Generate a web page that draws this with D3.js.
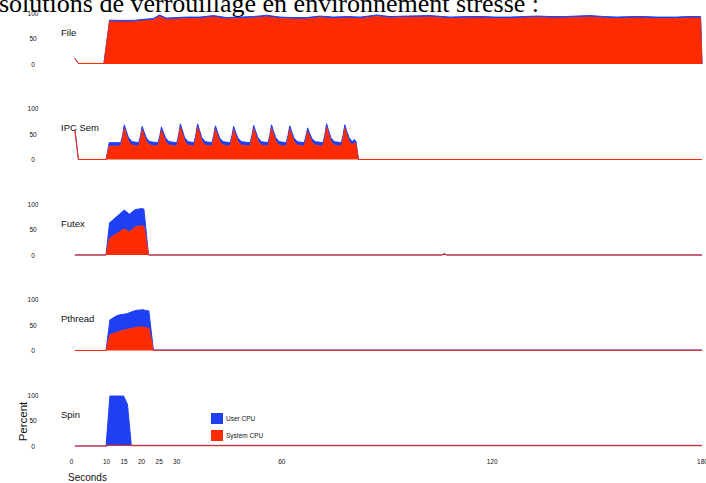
<!DOCTYPE html>
<html>
<head>
<meta charset="utf-8">
<script src="https://cdn.jsdelivr.net/npm/d3@7"></script>
<style>
  body { margin: 0; background: #fff; overflow: hidden; }
  text { font-family: "Liberation Sans", Arial, sans-serif; }
</style>
</head>
<body>
<svg id="chart" width="706" height="483"></svg>
<script>
const titleText = "solutions de verrouillage en environnement stressé :";
const panelNames = ["File", "IPC Sem", "Futex", "Pthread", "Spin"];
const xTicks = [0, 10, 15, 20, 25, 30, 60, 120, 180];
const yTicks = [0, 50, 100];
const legendLabels = ["User CPU", "System CPU"];

// [seconds, system %, user %]
const fileCpu = [
  [1.1, 11, 0], [2.1, 1, 0], [9.4, 1, 0], [11.0, 83, 3], [13.0, 82.5, 3], [17.8, 82.5, 3],
  [21.6, 85, 3], [23.5, 86, 3], [25.2, 93, 3], [27.3, 87, 3], [33, 89, 3], [36.8, 89, 3],
  [40.6, 92, 3], [44.4, 88, 3], [48.2, 89, 3], [52, 90, 3], [55.8, 92.5, 3], [59.6, 89, 3],
  [63.4, 88, 3], [67.2, 88, 3], [71, 91, 3], [74.8, 89, 3], [78.7, 90, 3], [82.5, 89, 3],
  [87.2, 93, 3], [91, 90, 3], [96, 91, 3], [102.4, 92, 3], [108.1, 89, 3], [113, 90, 3],
  [117.6, 90, 3], [121, 89, 3], [125.2, 89, 3], [132.9, 91, 3], [137, 90, 3], [140.5, 90, 3],
  [148.1, 92, 3], [152, 90, 3], [155.7, 89, 3], [160, 90, 3], [163.3, 90, 3], [167.1, 89, 3],
  [172.8, 89, 3], [176, 90, 3], [179.6, 90, 3], [180, 0, 0]
];

const ipcSemCpu = [
  [1.1, 59, 0], [2.1, 0, 0], [10.0, 0, 0], [10.9, 26, 7],
  [14.2, 26, 7], [14.7, 40, 7], [15.2, 61, 7], [15.7, 50, 7], [16.4, 36, 7], [17.4, 28, 7],
  [19.3, 26, 7], [19.8, 39, 7], [20.3, 58, 7], [20.8, 48, 7], [21.5, 35, 7], [22.5, 28, 7],
  [24.8, 26, 7], [25.3, 38, 7], [25.8, 57, 7], [26.3, 47, 7], [27.0, 35, 7], [28.0, 28, 7],
  [30.2, 26, 7], [30.7, 41, 7], [31.2, 63, 7], [31.7, 52, 7], [32.4, 36, 7], [33.4, 28, 7],
  [35.1, 26, 7], [35.6, 41, 7], [36.1, 63, 7], [36.6, 52, 7], [37.3, 36, 7], [38.3, 28, 7],
  [40.2, 26, 7], [40.7, 40, 7], [41.2, 59, 7], [41.7, 49, 7], [42.4, 35, 7], [43.4, 28, 7],
  [45.4, 26, 7], [45.9, 39, 7], [46.4, 58, 7], [46.9, 48, 7], [47.6, 35, 7], [48.6, 28, 7],
  [51.1, 26, 7], [51.6, 40, 7], [52.1, 60, 7], [52.6, 50, 7], [53.3, 36, 7], [54.3, 28, 7],
  [56.2, 26, 7], [56.7, 40, 7], [57.2, 61, 7], [57.7, 50, 7], [58.4, 36, 7], [59.4, 28, 7],
  [61.4, 26, 7], [61.9, 40, 7], [62.4, 59, 7], [62.9, 49, 7], [63.6, 35, 7], [64.6, 28, 7],
  [66.5, 26, 7], [67.0, 38, 7], [67.5, 55, 7], [68.0, 46, 7], [68.7, 34, 7], [69.7, 28, 7],
  [71.9, 26, 7], [72.4, 41, 7], [72.9, 63, 7], [73.4, 52, 7], [74.1, 36, 7], [75.1, 28, 7],
  [77.1, 26, 7], [77.6, 40, 7], [78.1, 61, 7], [78.6, 50, 7], [79.3, 36, 7], [80.2, 28, 7],
  [80.9, 33, 6], [81.3, 30, 5], [82.0, 0, 0], [180, 0, 0]
];

const futexCpu = [
  [1.1, 0, 0], [10.0, 0, 0], [11.0, 33, 30], [15.2, 51, 37], [16.7, 45, 35],
  [18.3, 55, 34], [20.2, 57, 34], [20.8, 57, 33], [22.1, 0, 0],
  [105.8, 0, 0], [106.5, 2, 1], [107.2, 0, 0], [180, 0, 0]
];

const pthreadCpu = [
  [1.1, 0, 0], [10.0, 0, 0], [11.1, 31, 29], [13.0, 35, 33], [14.0, 38, 32], [15.9, 41, 31],
  [17.8, 44, 33], [18.7, 45, 34], [19.2, 46, 33], [20.5, 46, 34], [21.6, 44, 34],
  [22.2, 44, 34], [23.5, 0.4, 0.6], [180, 0.4, 0.6]
];

const spinCpu = [
  [1.1, 0, 0], [10.0, 0, 0], [11.1, 1, 97], [15.0, 1, 97], [16.1, 1, 81],
  [17.2, 0.5, 0.8], [180, 0.5, 0.8]
];

const panels = [fileCpu, ipcSemCpu, futexCpu, pthreadCpu, spinCpu];

const userColor = "#1f3ff2";
const sysColor = "#ff2b00";
// the filled areas begin with the test run, the lead-in is only a line
const runStart = 9;

const svg = d3.select("#chart");

svg.append("text")
  .attr("x", -1)
  .attr("y", 12)
  .style("font-family", "'Liberation Serif', 'Times New Roman', serif")
  .style("font-size", "26px")
  .attr("fill", "#000")
  .text(titleText);

const x = d3.scaleLinear().domain([0, 180]).range([71, 702]);

const firstZero = 64, panelStep = 95.5, panelHeight = 51;

panels.forEach((data, i) => {
  const zero = firstZero + i * panelStep;
  const y = d3.scaleLinear().domain([0, 100]).range([zero, zero - panelHeight]);
  const g = svg.append("g");

  const yAxis = g.append("g")
    .attr("transform", "translate(37,0)")
    .call(d3.axisLeft(y).tickValues(yTicks).tickSize(0).tickPadding(0));
  yAxis.select(".domain").remove();
  yAxis.selectAll("text")
    .attr("text-anchor", "middle")
    .attr("x", -4)
    .style("font-family", "'Liberation Sans', Arial, sans-serif")
    .style("font-size", "6.5px")
    .attr("fill", "#111");

  g.append("text")
    .attr("x", 61)
    .attr("y", zero - 28.3)
    .style("font-size", "9.5px")
    .attr("fill", "#111")
    .text(panelNames[i]);

  const run = data.filter(d => d[0] >= runStart);

  const userArea = d3.area()
    .x(d => x(d[0]))
    .y0(d => y(d[1]))
    .y1(d => y(d[1] + d[2]));
  const sysArea = d3.area()
    .x(d => x(d[0]))
    .y0(y(0))
    .y1(d => y(d[1]));

  g.append("path").datum(run).attr("d", userArea).attr("fill", userColor);
  g.append("path").datum(run).attr("d", sysArea).attr("fill", sysColor);

  g.append("path").datum(data)
    .attr("d", d3.line().x(d => x(d[0])).y(d => y(d[1] + d[2])))
    .attr("fill", "none").attr("stroke", userColor).attr("stroke-width", 1);
  g.append("path").datum(data)
    .attr("d", d3.line().x(d => x(d[0])).y(d => y(d[1])))
    .attr("fill", "none").attr("stroke", sysColor).attr("stroke-width", 1);
});

const xAxis = svg.append("g")
  .attr("transform", "translate(0,459)")
  .call(d3.axisBottom(x).tickValues(xTicks).tickSize(0).tickPadding(0).tickFormat(d3.format("d")));
xAxis.select(".domain").remove();
xAxis.selectAll("text")
  .attr("dy", "0.35em")
  .attr("y", 2.5)
  .style("font-family", "'Liberation Sans', Arial, sans-serif")
  .style("font-size", "6.5px")
  .attr("fill", "#111");

svg.append("text")
  .attr("x", 68)
  .attr("y", 481)
  .style("font-size", "10px")
  .attr("fill", "#111")
  .text("Seconds");

svg.append("text")
  .attr("transform", "translate(27,421.5) rotate(-90)")
  .attr("text-anchor", "middle")
  .style("font-size", "11.5px")
  .attr("fill", "#111")
  .text("Percent");

const legend = svg.append("g").attr("transform", "translate(211,413)");
[userColor, sysColor].forEach((c, i) => {
  legend.append("rect")
    .attr("x", 0).attr("y", i * 17)
    .attr("width", 12).attr("height", 11)
    .attr("fill", c);
  legend.append("text")
    .attr("x", 15).attr("y", i * 17 + 5.5)
    .attr("dy", "0.35em")
    .style("font-size", "6.5px")
    .attr("fill", "#111")
    .text(legendLabels[i]);
});
</script>
</body>
</html>
